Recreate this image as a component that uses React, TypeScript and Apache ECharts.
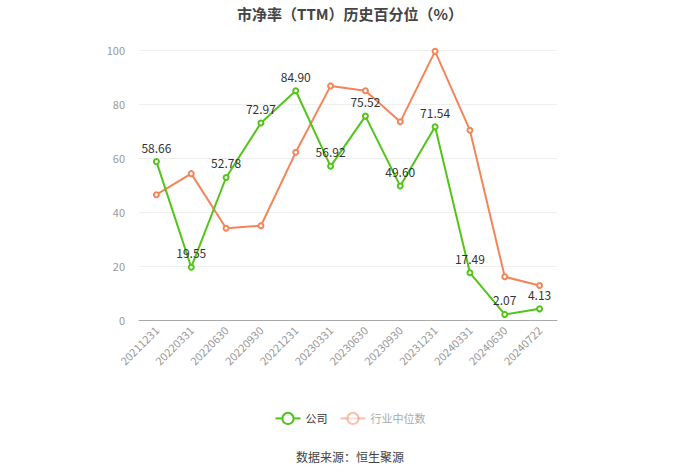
import React, { useEffect, useRef } from "react";
import * as echarts from "echarts";

const categories = ["20211231", "20220331", "20220630", "20220930", "20221231", "20230331", "20230630", "20230930", "20231231", "20240331", "20240630", "20240722"];
const companyValues = [58.66, 19.55, 52.78, 72.97, 84.9, 56.92, 75.52, 49.6, 71.54, 17.49, 2.07, 4.13];
const industryValues = [46.4, 54.2, 34.0, 34.9, 62.1, 86.7, 84.9, 73.4, 99.5, 70.3, 16.0, 12.8];
const yTicks = [0, 20, 40, 60, 80, 100];

const GREEN = "#52C41A";
const ORANGE = "#F4845A";
const FONT = "'Noto Sans CJK SC', 'Noto Sans', sans-serif";

export default function App() {
  const ref = useRef<HTMLDivElement>(null);
  useEffect(() => {
    if (!ref.current) return;
    const chart = echarts.init(ref.current, undefined, { renderer: "svg" });
    chart.setOption({
      animation: false,
      textStyle: { fontFamily: FONT },
      title: {
        text: "市净率（TTM）历史百分位（%）",
        left: "center",
        top: 1,
        textStyle: { fontSize: 15, fontWeight: "bold", color: "#444", fontFamily: FONT },
      },
      grid: { left: 139, right: 143, top: 50, bottom: 154 },
      legend: {
        bottom: 44,
        left: "center",
        itemWidth: 25,
        itemHeight: 14,
        itemGap: 12,
        textStyle: { fontSize: 11, color: "#333" },
        data: [
          { name: "公司" },
          { name: "行业中位数", textStyle: { color: "#aaa" }, itemStyle: { opacity: 0.5 }, lineStyle: { opacity: 0.5 } },
        ],
      },
      graphic: [
        {
          type: "text",
          left: "center",
          top: 450,
          style: { text: "数据来源：恒生聚源", fontSize: 12, fill: "#444", fontFamily: FONT },
        },
      ],
      xAxis: {
        type: "category",
        data: categories,
        boundaryGap: true,
        axisLine: { lineStyle: { color: "#aaa" } },
        axisTick: { alignWithLabel: true, lineStyle: { color: "#aaa" } },
        axisLabel: { rotate: 45, color: "#999", fontSize: 11, interval: 0, margin: 8 },
      },
      yAxis: {
        type: "value",
        min: yTicks[0],
        max: yTicks[yTicks.length - 1],
        interval: 20,
        axisLine: { show: false },
        axisTick: { show: false },
        axisLabel: { color: "#999", fontSize: 11, margin: 14 },
        splitLine: { lineStyle: { color: "#eee" } },
      },
      series: [
        {
          name: "公司",
          type: "line",
          data: companyValues,
          symbol: "emptyCircle",
          symbolSize: 5,
          itemStyle: { color: GREEN },
          lineStyle: { color: GREEN, width: 2 },
          label: {
            show: true,
            position: "top",
            color: "#333",
            fontSize: 12,
            formatter: (p: any) => Number(p.value).toFixed(2),
          },
          z: 3,
        },
        {
          name: "行业中位数",
          type: "line",
          data: industryValues,
          symbol: "emptyCircle",
          symbolSize: 5,
          itemStyle: { color: ORANGE },
          lineStyle: { color: ORANGE, width: 2 },
          z: 2,
        },
      ],
    });
    return () => chart.dispose();
  }, []);
  return <div ref={ref} style={{ position: "absolute", left: 0, top: 0, width: 700, height: 474 }} />;
}
